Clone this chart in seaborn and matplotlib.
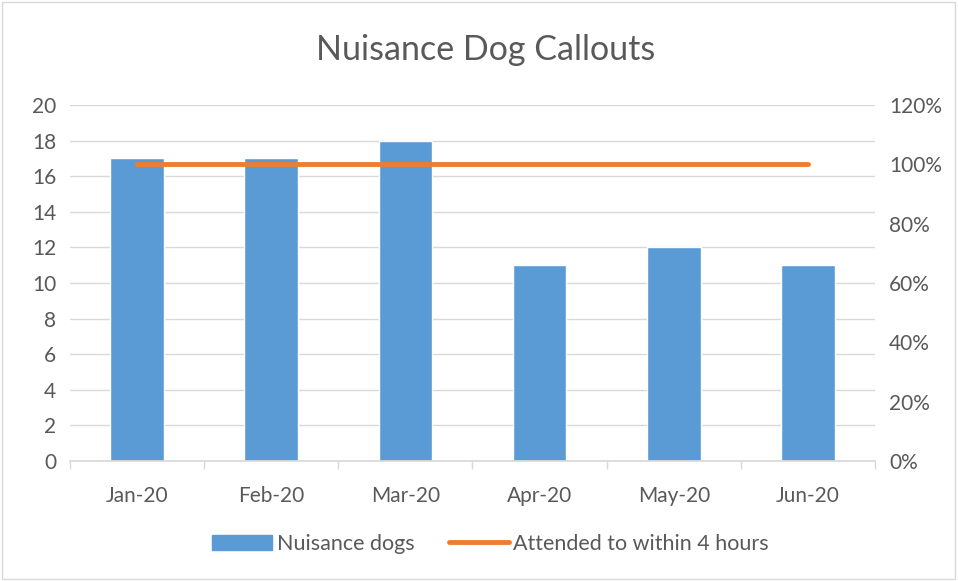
import matplotlib.pyplot as plt
import seaborn as sns
from matplotlib.ticker import FixedLocator, FuncFormatter
from matplotlib.patches import Patch
from matplotlib.lines import Line2D

# --- data ---
months = ["Jan-20", "Feb-20", "Mar-20", "Apr-20", "May-20", "Jun-20"]
nuisance_dogs = [17, 17, 18, 11, 12, 11]
attended_4h = [1.0, 1.0, 1.0, 1.0, 1.0, 1.0]

BLUE = "#5B9BD5"
ORANGE = "#ED7D31"
TXT = "#595959"
GRID = "#D9D9D9"

sns.set_theme(style="white")
plt.rcParams["font.family"] = ["Lato", "DejaVu Sans"]

fig = plt.figure(figsize=(9.58, 5.81), dpi=100)
ax = fig.add_axes([70 / 958, 1 - 461 / 581, 805 / 958, 356 / 581])

sns.barplot(x=months, y=nuisance_dogs, color=BLUE, width=0.4, saturation=1, ax=ax, zorder=2)
ax.set_ylim(0, 20)
ax.set_yticks(range(0, 21, 2))
ax.set_xlim(-0.5, 5.5)
ax.grid(axis="y", color=GRID, lw=1, zorder=0)
ax.set_axisbelow(True)
for s in ["top", "left", "right"]:
    ax.spines[s].set_visible(False)
ax.spines["bottom"].set_color(GRID)
ax.xaxis.set_minor_locator(FixedLocator([i - 0.5 for i in range(7)]))
ax.tick_params(axis="x", which="minor", bottom=True, length=6, color=GRID, width=1)
ax.tick_params(axis="x", which="major", length=0, pad=18, labelsize=15, labelcolor=TXT)
ax.tick_params(axis="y", length=0, pad=10, labelsize=15, labelcolor=TXT)

ax2 = ax.twinx()
sns.lineplot(x=months, y=attended_4h, color=ORANGE, lw=3.5, ax=ax2)
ax2.set_ylim(0, 1.2)
ax2.set_yticks([0, 0.2, 0.4, 0.6, 0.8, 1.0, 1.2])
ax2.yaxis.set_major_formatter(FuncFormatter(lambda v, _: f"{v:.0%}"))
ax2.tick_params(axis="y", length=0, pad=10, labelsize=15, labelcolor=TXT)
for s in ["top", "left", "right", "bottom"]:
    ax2.spines[s].set_visible(False)
ax2.grid(False)
ax2.set_xlim(-0.5, 5.5)

fig.suptitle("Nuisance Dog Callouts", x=0.507, y=1 - 50 / 581, va="center", fontsize=24.5, color=TXT)

handles = [Patch(color=BLUE), Line2D([], [], color=ORANGE, lw=3.5)]
fig.legend(handles, ["Nuisance dogs", "Attended to within 4 hours"], loc="center",
           bbox_to_anchor=(0.512, 1 - 544 / 581), ncol=2, frameon=False, fontsize=15.5,
           labelcolor=TXT, handlelength=2.8, handleheight=0.75, handletextpad=0.2,
           columnspacing=1.6)

fig.patches.append(plt.Rectangle((0.002, 0.003), 0.995, 0.994, transform=fig.transFigure,
                                 fill=False, edgecolor=GRID, lw=1))

plt.savefig("out.png", dpi=100)
